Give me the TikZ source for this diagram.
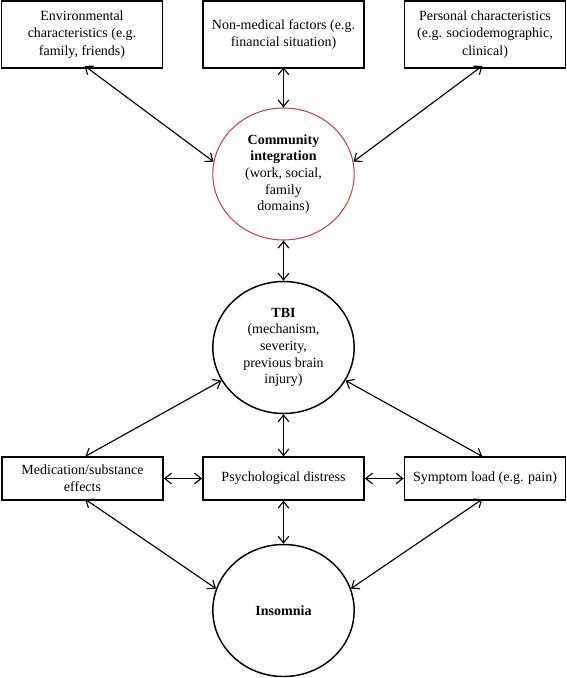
\documentclass[tikz,border=0pt]{standalone}
\usepackage{fontspec}
\setmainfont{Liberation Serif}
\usetikzlibrary{shapes.geometric,arrows.meta}
\definecolor{commred}{RGB}{200,66,66}

\begin{document}
\begin{tikzpicture}[x=0.75pt,y=0.75pt,yscale=-1,xscale=1,
    factorbox/.style={draw,line width=1.1pt,minimum width=121pt,minimum height=50pt,align=center,inner sep=1pt,font=\fontsize{10.5}{13}\selectfont},
    midbox/.style={draw,line width=1.1pt,minimum width=121pt,minimum height=32pt,align=center,inner sep=1pt,font=\fontsize{10.5}{13}\selectfont},
    blob/.style={ellipse,draw,line width=1.1pt,minimum width=106pt,minimum height=99pt,align=center,inner sep=0pt,font=\fontsize{10.5}{12.5}\selectfont},
    link/.style={{Straight Barb[length=5pt,width=8pt]}-{Straight Barb[length=5pt,width=8pt]},line width=0.85pt}]
    \useasboundingbox (0,0) rectangle (567,678);

    % Top row boxes
    \node [factorbox] (env) at (82,34.5) {Environmental\\characteristics (e.g.\\family, friends)};
    \node [factorbox] (nonmed) at (283.5,34.5) {Non-medical factors (e.g.\\financial situation)};
    \node [factorbox] (pers) at (485,34.5) {Personal characteristics\\(e.g. sociodemographic,\\clinical)};

    % Circles
    \node [blob,draw=commred,line width=0.8pt] (comm) at (283.5,174) {\textbf{Community}\\\textbf{integration}\\(work, social,\\family\\domains)};
    \node [blob] (tbi) at (283.5,347.5) {\textbf{TBI}\\(mechanism,\\severity,\\previous brain\\injury)};
    \node [blob] (insom) at (283.5,610.5) {\textbf{Insomnia}};

    % Middle row boxes
    \node [midbox] (med) at (82.5,478.5) {Medication/substance\\effects};
    \node [midbox] (psych) at (283.5,478.5) {Psychological distress};
    \node [midbox] (sym) at (485,478.5) {Symptom load (e.g. pain)};

    % Arrows
    \draw [link] ([xshift=2pt,yshift=-2pt]env.south) -- (comm.170);
    \draw [link] ([yshift=-1pt]nonmed.south) -- (comm.north);
    \draw [link] ([xshift=-2pt,yshift=-2pt]pers.south) -- (comm.10);
    \draw [link] (comm.south) -- (tbi.north);
    \draw [link] (tbi.208) -- ([xshift=2pt]med.north);
    \draw [link] (tbi.332) -- ([xshift=-2pt]sym.north);
    \draw [link] (tbi.south) -- (psych.north);
    \draw [link] (med.east) -- (psych.west);
    \draw [link] (psych.east) -- (sym.west);
    \draw [link] (psych.south) -- (insom.north);
    \draw [link] ([xshift=2pt,yshift=-1pt]med.south) -- (insom.162);
    \draw [link] ([xshift=-2pt,yshift=-1pt]sym.south) -- (insom.18);
\end{tikzpicture}
\end{document}
